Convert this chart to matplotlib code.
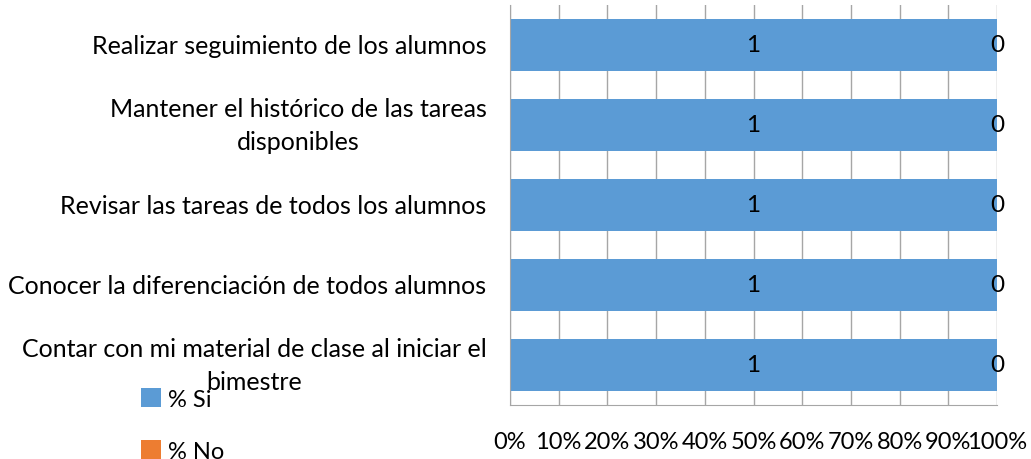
import matplotlib
matplotlib.use("Agg")
import matplotlib.pyplot as plt
from matplotlib.ticker import PercentFormatter, MultipleLocator

plt.rcParams['font.family'] = ['Lato', 'DejaVu Sans']

categories = [
    "Realizar seguimiento de los alumnos",
    "Mantener el histórico de las tareas\ndisponibles",
    "Revisar las tareas de todos los alumnos",
    "Conocer la diferenciación de todos alumnos",
    "Contar con mi material de clase al iniciar el\nbimestre",
]
si_values = [1, 1, 1, 1, 1]
no_values = [0, 0, 0, 0, 0]
series_names = ["% Si", "% No"]
colors = ["#5B9BD5", "#ED7D31"]

fig = plt.figure(figsize=(10.31, 4.60), dpi=100)
ax = fig.add_axes([510 / 1031, 1 - 406 / 460, 487 / 1031, 400 / 460])

y = list(range(len(categories)))
totals = [s + n for s, n in zip(si_values, no_values)]
si_share = [s / t for s, t in zip(si_values, totals)]
no_share = [n / t for n, t in zip(no_values, totals)]

h = 0.65
b1 = ax.barh(y, si_share, height=h, color=colors[0], label=series_names[0], zorder=2)
b2 = ax.barh(y, no_share, left=si_share, height=h, color=colors[1], label=series_names[1], zorder=2)

for bars, vals in ((b1, si_values), (b2, no_values)):
    for rect, v in zip(bars, vals):
        ax.text(rect.get_x() + rect.get_width() / 2, rect.get_y() + rect.get_height() / 2,
                f"{v}", ha="center", va="center", fontsize=17.5, color="black", zorder=3)

ax.set_xlim(0, 1)
ax.set_ylim(len(categories) - 0.5, -0.5)
ax.xaxis.set_major_locator(MultipleLocator(0.1))
ax.xaxis.set_major_formatter(PercentFormatter(1.0, decimals=0))
ax.grid(axis="x", color="#A6A6A6", linewidth=1.0, zorder=1)
ax.set_axisbelow(True)

ax.set_yticks(y)
ax.set_yticklabels(categories, fontsize=18)
ax.tick_params(axis="y", length=0, pad=17)
for lbl in ax.get_yticklabels():
    lbl.set_multialignment("center")
    lbl.set_linespacing(1.55)
    lbl.set_verticalalignment("center")

ax.tick_params(axis="x", length=0, pad=19, labelsize=17)

for side in ["top", "right"]:
    ax.spines[side].set_visible(False)
ax.spines["left"].set_color("#A6A6A6")
ax.spines["bottom"].set_color("#A6A6A6")

fig.legend(handles=[b1, b2], labels=series_names, loc="upper left",
           bbox_to_anchor=(141 / 1031, 1 - 389 / 460), frameon=False, fontsize=17,
           borderpad=0, borderaxespad=0,
           handlelength=0.85, handleheight=0.85, handletextpad=0.3, labelspacing=1.3)

fig.savefig("out.png", dpi=100)
